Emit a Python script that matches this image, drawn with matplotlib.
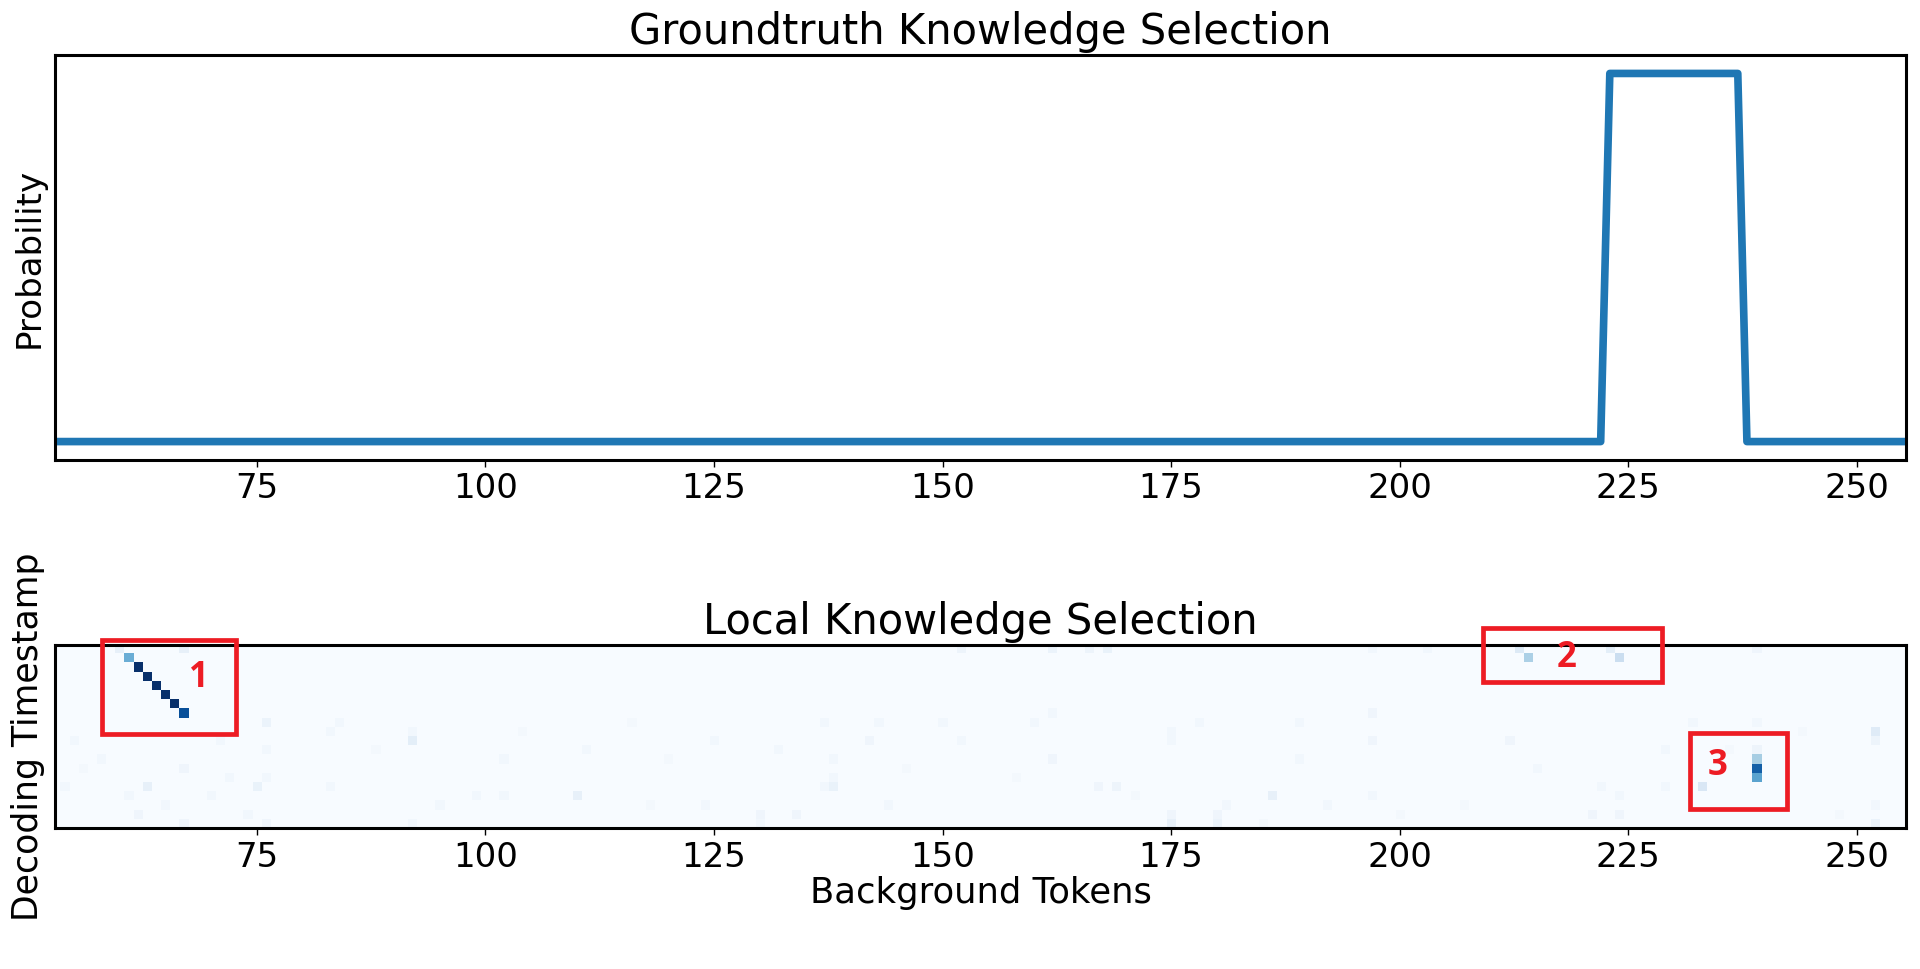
import matplotlib.pyplot as plt
import matplotlib.patches as patches
import numpy as np

# token axis shared by both panels
tokens = np.arange(53, 256)

# groundtruth selection: flat except the selected span
gt_start = 223
gt_end = 237
gt_prob = np.where((tokens >= gt_start) & (tokens <= gt_end), 1.0, 0.0)
line_x = np.concatenate([[52], tokens, [256]])
line_y = np.concatenate([[0.0], gt_prob, [0.0]])

# local selection heatmap: 20 decoding steps, listed non-background cells
n_steps = 20
cell_row = [1, 2, 3, 4, 5, 6, 7,
            0, 0, 1, 1,
            12, 13, 14, 15,
            0, 0, 0, 0, 0, 0, 0, 0, 0,
            8, 8, 8, 8, 8, 9, 9, 10, 10, 10, 10, 10, 10,
            11, 11, 11, 12, 12, 12, 13, 14, 14, 14,
            15, 15, 15, 15, 15, 15, 16, 16, 16, 16, 16,
            17, 17, 17, 17, 18, 18, 18, 18, 19, 19, 19, 19,
            7, 7, 8, 8, 8, 8, 8, 9, 9, 10, 10, 10, 10, 11, 11,
            12, 12, 13, 15, 15, 15, 15, 16, 16, 16, 17, 17, 17,
            18, 18, 18, 18, 19, 19, 19,
            8, 9, 11, 12, 13, 14, 16, 17, 18, 19, 9, 11, 13, 17, 18]
cell_tok = [61, 62, 63, 64, 65, 66, 67,
            213, 223, 214, 224,
            239, 239, 239, 233,
            60, 67, 152, 162, 166, 168, 197, 203, 239,
            76, 84, 137, 143, 150, 83, 92, 92, 125, 142, 152, 55, 71,
            76, 111, 132, 58, 102, 138, 67, 72, 76, 138,
            63, 75, 83, 138, 137, 54, 110, 99, 102, 61, 70,
            65, 95, 144, 124, 62, 130, 134, 74, 67, 76, 92, 130,
            162, 197, 160, 178, 189, 232, 239, 175, 252, 175, 197, 212, 252, 239, 229,
            162, 189, 215, 167, 169, 222, 229, 186, 197, 224, 181, 192, 252,
            221, 224, 175, 180, 175, 180, 252,
            116, 104, 88, 120, 146, 158, 171, 207, 200, 185, 244, 236, 56, 118, 248]
cell_val = [0.5, 1.0, 1.0, 1.0, 1.0, 1.0, 0.88,
            0.13, 0.1, 0.33, 0.22,
            0.35, 0.82, 0.55, 0.15,
            0.08, 0.08, 0.05, 0.06, 0.05, 0.07, 0.03, 0.03, 0.04,
            0.06, 0.03, 0.03, 0.03, 0.03, 0.03, 0.03, 0.1, 0.03, 0.04, 0.03, 0.03, 0.03,
            0.03, 0.03, 0.03, 0.03, 0.03, 0.03, 0.04, 0.03, 0.03, 0.03,
            0.08, 0.07, 0.03, 0.07, 0.03, 0.03, 0.08, 0.03, 0.03, 0.03, 0.03,
            0.03, 0.03, 0.03, 0.03, 0.04, 0.04, 0.04, 0.03, 0.04, 0.04, 0.03, 0.03,
            0.03, 0.04, 0.03, 0.03, 0.03, 0.03, 0.03, 0.03, 0.12, 0.03, 0.04, 0.04, 0.05, 0.05, 0.03,
            0.04, 0.03, 0.03, 0.04, 0.05, 0.03, 0.03, 0.08, 0.03, 0.03, 0.03, 0.03, 0.03,
            0.04, 0.04, 0.04, 0.04, 0.08, 0.06, 0.06,
            0.02, 0.02, 0.02, 0.02, 0.02, 0.02, 0.02, 0.02, 0.02, 0.02, 0.02, 0.02, 0.02, 0.02, 0.02]

heat = np.zeros((n_steps, len(tokens)))
for r, t, v in zip(cell_row, cell_tok, cell_val):
    heat[r, t - tokens[0]] = v

# highlight boxes (token range, step range) and their labels
box_x0 = [58.1, 209.1, 231.8]
box_x1 = [72.7, 228.7, 242.4]
box_y0 = [-1.05, -2.36, 9.13]
box_y1 = [9.2, 3.6, 17.4]
box_lbl = ["1", "2", "3"]
lbl_x = [68.6, 218.3, 234.8]
lbl_y = [3.1, 0.9, 12.7]

xmin, xmax = 52.9, 255.4
red = "#ed1c24"

fig = plt.figure(figsize=(19.2, 9.69), dpi=100)
ax1 = fig.add_axes([0.0286, 0.5253, 0.9641, 0.4179])
ax2 = fig.add_axes([0.0286, 0.1455, 0.9641, 0.1889])

ax1.plot(line_x, line_y, color="#1f77b4", lw=5.5)
ax1.set_xlim(xmin, xmax)
ax1.set_yticks([])
ax1.set_ylabel("Probability", fontsize=24.5, labelpad=7)
ax1.set_title("Groundtruth Knowledge Selection", fontsize=30, pad=8)

ax2.imshow(heat, cmap="Blues", vmin=0, vmax=1, aspect="auto",
           interpolation="nearest",
           extent=(tokens[0] - 0.5, tokens[-1] + 0.5, n_steps - 0.5, -0.5))
ax2.set_xlim(xmin, xmax)
ax2.set_ylim(n_steps - 0.5, -0.5)
ax2.set_yticks([])
ax2.set_ylabel("Decoding Timestamp", fontsize=25, labelpad=7)
ax2.set_xlabel("Background Tokens", fontsize=25.5, labelpad=2)
ax2.set_title("Local Knowledge Selection", fontsize=30, pad=8)

for i in range(len(box_lbl)):
    rect = patches.Rectangle((box_x0[i], box_y0[i]), box_x1[i] - box_x0[i],
                             box_y1[i] - box_y0[i], fill=False,
                             edgecolor=red, lw=3.4, clip_on=False, zorder=5)
    ax2.add_patch(rect)
    ax2.text(lbl_x[i], lbl_y[i], box_lbl[i], color=red, fontsize=25,
             fontweight="bold", family="Open Sans", ha="center", va="center",
             zorder=6, clip_on=False)

for ax in (ax1, ax2):
    ax.set_xticks([75, 100, 125, 150, 175, 200, 225, 250])
    ax.tick_params(axis="x", labelsize=24.5, length=5, width=1, pad=4)
    for s in ax.spines.values():
        s.set_linewidth(2.2)

fig.savefig("out.png", dpi=100)
